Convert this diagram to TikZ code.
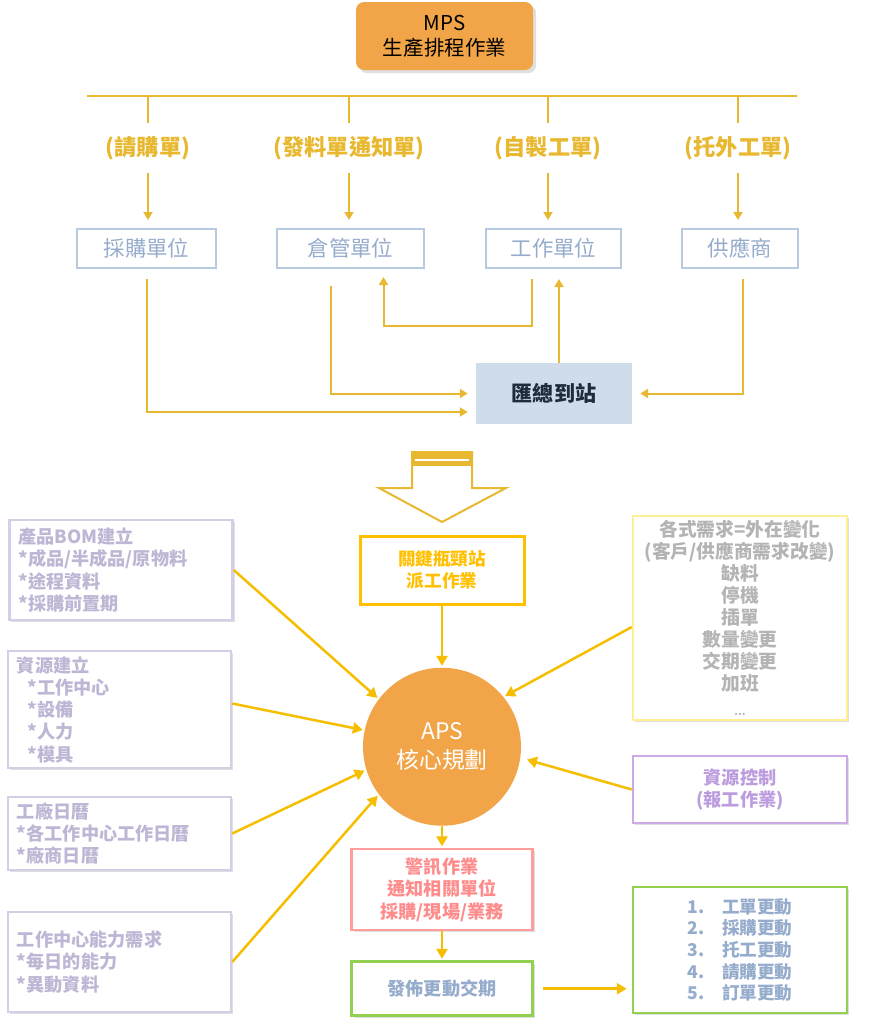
\documentclass[tikz,border=0pt]{standalone}
\usepackage{fontspec}
\setmainfont{Noto Sans CJK TC}
\usetikzlibrary{positioning, calc, shadows, arrows.meta}

\definecolor{linegold}{RGB}{232,184,48}
\definecolor{arrgold}{RGB}{246,190,0}
\definecolor{keygold}{RGB}{255,192,0}
\definecolor{mpsorange}{RGB}{242,165,72}
\definecolor{unitline}{RGB}{184,202,224}
\definecolor{unittext}{RGB}{150,172,204}
\definecolor{hubfill}{RGB}{207,220,234}
\definecolor{hubtext}{RGB}{30,45,60}
\definecolor{lavline}{RGB}{214,206,230}
\definecolor{lavtext}{RGB}{190,182,212}
\definecolor{yelline}{RGB}{255,240,150}
\definecolor{greytext}{RGB}{180,180,180}
\definecolor{purline}{RGB}{204,170,230}
\definecolor{purtext}{RGB}{188,156,222}
\definecolor{pinkline}{RGB}{255,156,156}
\definecolor{pinktext}{RGB}{255,140,140}
\definecolor{grnline}{RGB}{146,208,80}

\tikzset{
	order/.style={font=\fontsize{19}{22}\selectfont\bfseries, text=linegold, minimum height=15mm, inner sep=0pt},
	unit/.style={draw=unitline, line width=0.6mm, text=unittext, font=\fontsize{18.3}{20}\selectfont, minimum height=11.7mm},
	link/.style={draw=linegold, line width=0.6mm, -{Triangle[length=2.4mm,width=2.7mm]}, shorten >=2.4mm},
	feed/.style={draw=arrgold, line width=0.75mm, -{Triangle[length=3mm,width=3.3mm]}, shorten >=0.5mm},
	card/.style={line width=0.75mm, fill=white, inner sep=0pt, drop shadow={opacity=0.25, shadow xshift=0.6mm, shadow yshift=-0.6mm}},
	leftcard/.style={card, draw=lavline, text=lavtext, align=left, text width=61.5mm, inner xsep=2.7mm, font=\fontsize{15.5}{19}\selectfont\bfseries},
}

\begin{document}
\begin{tikzpicture}[x=0.3mm, y=-0.3mm]
	\useasboundingbox (0,0) rectangle (887,1024);

	% top: MPS and the orders
	\node (mps)[fill=mpsorange, rounded corners=2.4mm, minimum width=53.1mm, minimum height=20.4mm, align=center, font=\fontsize{17.5}{21}\selectfont, drop shadow={opacity=0.25}] at (444.5,36) {MPS\\生產排程作業};
	\coordinate (bl) at (87,96);
	\coordinate (br) at (797,96);
	\draw[linegold, line width=0.6mm] (bl) -- (br);

	\node (qg)[order] at (148,148) {(請購單)};
	\node (fl)[order] at (349,148) {(發料單通知單)};
	\node (zz)[order] at (548,148) {(自製工單)};
	\node (tw)[order] at (738,148) {(托外工單)};
	\foreach \n in {qg,fl,zz,tw}
		\draw[linegold, line width=0.6mm] (\n.north |- bl) -- (\n.north);

	\node (cg)[unit, minimum width=41.7mm] at (146.5,248.5) {採購單位};
	\node (cw)[unit, minimum width=44.1mm] at (350.5,248.5) {倉管單位};
	\node (gz)[unit, minimum width=40.5mm] at (553.5,248.5) {工作單位};
	\node (gy)[unit, minimum width=34.8mm] at (740,248.5) {供應商};
	\foreach \a/\b in {qg/cg,fl/cw,zz/gz,tw/gy}
		\draw[link] (\a.south) -- (\a.south |- \b.north);

	\node (hz)[fill=hubfill, text=hubtext, font=\fontsize{18}{20}\selectfont\bfseries, minimum width=46.8mm, minimum height=18.3mm] at (554,393.5) {匯總到站};
	\coordinate (hu) at ($(hz.north)+(5,0)$);

	\draw[link, shorten <=3mm] (cg.south) |- ($(hz.west)+(0,18.5)$);
	\draw[link, shorten <=5mm] ($(cw.south)+(-20,0)$) |- (hz.west);
	\draw[link, shorten <=3mm] ($(gz.south)+(-22,0)$) -- ++(0,57) -| ($(cw.south)+(33,0)$);
	\draw[link, shorten >=3mm] (hu) -- (hu |- gz.south);
	\draw[link, shorten <=3mm] ($(gy.south)+(3,0)$) |- (hz.east);

	% big hollow arrow
	\draw[linegold, line width=0.6mm, fill=white] (412,452) -- (472,452) -- (472,488) -- (506,488) -- (442,522) -- (379,488) -- (412,488) -- cycle;
	\fill[linegold] (412,452) rectangle (472,466);
	\draw[white, line width=0.4mm] (415,460) -- (469,460);

	% APS core
	\node (gj)[card, draw=keygold, line width=0.9mm, text=keygold, align=center, font=\fontsize{15}{19}\selectfont\bfseries, minimum width=49.2mm, minimum height=20.4mm] at (442,570) {關鍵瓶頸站\\派工作業};
	\node (aps)[circle, fill=mpsorange, text=white, align=center, font=\fontsize{19.5}{25}\selectfont, minimum size=47.4mm, below=18.6mm of gj] {APS\\核心規劃};
	\node (jx)[card, draw=pinkline, text=pinktext, align=center, font=\fontsize{15.5}{19}\selectfont\bfseries, minimum width=54.3mm, minimum height=24.3mm, below=6.6mm of aps] {警訊作業\\通知相關單位\\採購/現場/業務};
	\node (fb)[card, draw=grnline, text=unittext, font=\fontsize{15.5}{19}\selectfont\bfseries, minimum width=54.3mm, minimum height=16.2mm, below=8.7mm of jx] {發佈更動交期};
	\node (gd)[card, draw=grnline, text=unittext, align=left, font=\fontsize{15}{18.5}\selectfont\bfseries, minimum width=64.2mm, minimum height=37.8mm] at (740,950) {1.\hspace{1em}工單更動\\2.\hspace{1em}採購更動\\3.\hspace{1em}托工更動\\4.\hspace{1em}請購更動\\5.\hspace{1em}訂單更動};

	% inputs
	\node (b1)[leftcard, minimum height=30mm] at (121,570) {產品BOM建立\\{*}成品/半成品/原物料\\{*}途程資料\\{*}採購前置期};
	\node (b2)[leftcard, minimum height=35.1mm] at (119.5,709.5) {資源建立\\\hspace{0.6em}*工作中心\\\hspace{0.6em}*設備\\\hspace{0.6em}*人力\\\hspace{0.6em}*模具};
	\node (b3)[leftcard, minimum height=21.9mm] at (119.5,833.5) {工廠日曆\\{*}各工作中心工作日曆\\{*}廠商日曆};
	\node (b4)[leftcard, minimum height=30mm] at (119.5,962) {工作中心能力需求\\{*}每日的能力\\{*}異動資料};
	\node (xq)[card, draw=yelline, text=greytext, align=center, font=\fontsize{16}{18.8}\selectfont\bfseries, minimum width=64.2mm, minimum height=61.2mm] at (740,618) {各式需求=外在變化\\(客戶/供應商需求改變)\\缺料\\停機\\插單\\數量變更\\交期變更\\加班\\[1mm]{\fontsize{9}{10}\selectfont ...}};
	\node (zk)[card, draw=purline, text=purtext, align=center, font=\fontsize{15.5}{19}\selectfont\bfseries, minimum width=64.2mm, minimum height=20.1mm] at (740,789.5) {資源控制\\(報工作業)};

	\draw[feed] (gj.south) -- (aps.north);
	\draw[feed] (aps.south) -- (jx.north);
	\draw[feed] (jx.south) -- (fb.north);
	\draw[feed, shorten <=2.7mm, shorten >=1.5mm] (fb.east) -- (fb.east -| gd.west);
	\draw[feed] (b1.east) -- (aps.143);
	\draw[feed] ($(b2.east)+(0,-6)$) -- (aps.168);
	\draw[feed] (b3.east) -- (aps.197);
	\draw[feed] (b4.east) -- (aps.217);
	\draw[feed] ($(xq.west)+(0,9)$) -- (aps.39);
	\draw[feed, shorten >=2mm] (zk.west) -- (aps.352);
\end{tikzpicture}
\end{document}
